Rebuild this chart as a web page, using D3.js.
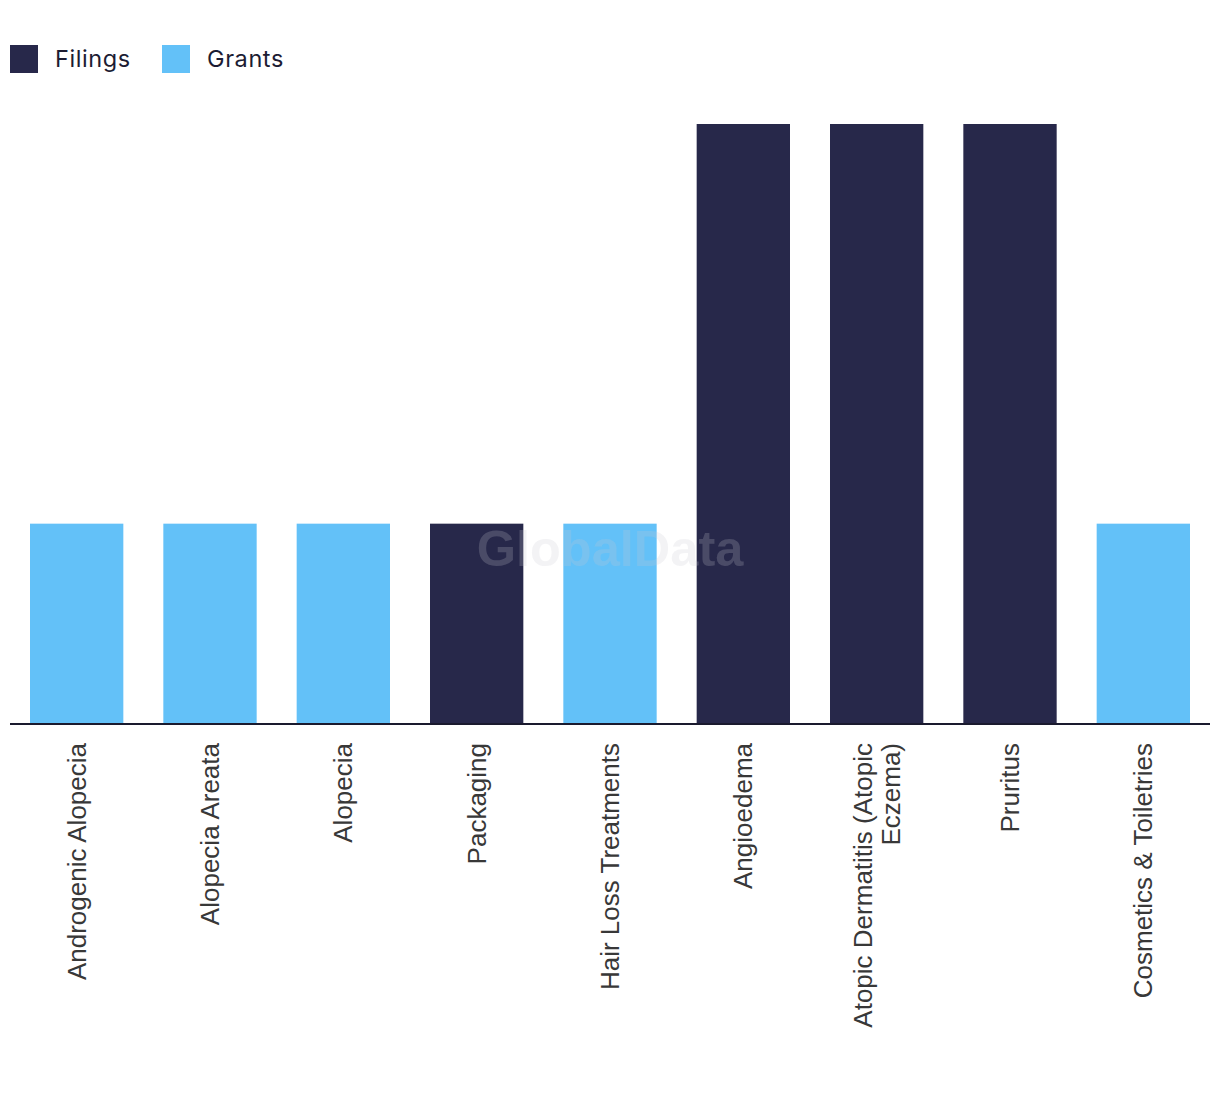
<!DOCTYPE html>
<html>
<head>
<meta charset="utf-8">
<script src="https://cdn.jsdelivr.net/npm/d3@7"></script>
<style>
  html, body { margin: 0; padding: 0; background: #ffffff; }
  svg { display: block; }
</style>
</head>
<body>
<div id="chart"></div>
<script>
const categories = [
  "Androgenic Alopecia",
  "Alopecia Areata",
  "Alopecia",
  "Packaging",
  "Hair Loss Treatments",
  "Angioedema",
  "Atopic Dermatitis (Atopic Eczema)",
  "Pruritus",
  "Cosmetics & Toiletries"
];
const seriesNames = ["Filings", "Grants"];
const filings = [0, 0, 0, 1, 0, 3, 3, 3, 0];
const grants  = [1, 1, 1, 0, 1, 0, 0, 0, 1];
const colors = ["#27284a", "#63c1f8"];

const W = 1220, H = 1094;
const svg = d3.select("#chart").append("svg").attr("width", W).attr("height", H);

const rows = categories.map((c, i) => ({ category: c, Filings: filings[i], Grants: grants[i] }));
const stack = d3.stack().keys(seriesNames)(rows);

const x = d3.scaleBand().domain(categories).range([10, 1210]).paddingInner(0.3).paddingOuter(0.15);
const y = d3.scaleLinear().domain([0, 3]).range([723.5, 124]);
const color = d3.scaleOrdinal().domain(seriesNames).range(colors);

// bars
svg.append("g").selectAll("g").data(stack).join("g")
  .attr("fill", d => color(d.key))
  .selectAll("rect").data(d => d.map((v, i) => ({ v, cat: categories[i] })))
  .join("rect")
  .attr("x", d => x(d.cat))
  .attr("width", x.bandwidth())
  .attr("y", d => y(d.v[1]))
  .attr("height", d => y(d.v[0]) - y(d.v[1]));

// watermark
svg.append("text")
  .attr("x", 610).attr("y", 566)
  .attr("text-anchor", "middle")
  .attr("font-family", "Liberation Sans, Arial, sans-serif")
  .attr("font-weight", "bold")
  .attr("font-size", 50.5)
  .attr("fill", "#c8c8d0")
  .attr("fill-opacity", 0.22)
  .text("GlobalData");

// x axis
const xAxis = svg.append("g").attr("transform", "translate(0,724)")
  .call(d3.axisBottom(x).tickSize(0).tickPadding(0));
xAxis.select(".domain").attr("stroke", "#1a1a2e").attr("stroke-width", 2)
  .attr("d", "M10,0H1210");
xAxis.selectAll(".tick text").remove();

function wrapLines(text, maxW, measure) {
  const words = text.split(/\s+/);
  const lines = [];
  let line = [];
  words.forEach(w => {
    const trial = line.concat([w]).join(" ");
    if (line.length && measure(trial) > maxW) {
      lines.push(line.join(" "));
      line = [w];
    } else line.push(w);
  });
  if (line.length) lines.push(line.join(" "));
  return lines;
}

const labelFont = 26;
const measurer = svg.append("text")
  .attr("font-family", "Liberation Sans, Arial, sans-serif")
  .attr("font-size", labelFont);
const measure = s => { measurer.text(s); return measurer.node().getComputedTextLength(); };

const lineH = 28.5;
xAxis.selectAll(".tick").each(function(d) {
  const lines = wrapLines(d, 305, measure);
  const t = d3.select(this).append("text")
    .attr("transform", "translate(0,19) rotate(-90)")
    .attr("text-anchor", "end")
    .attr("font-family", "Liberation Sans, Arial, sans-serif")
    .attr("font-size", labelFont)
    .attr("fill", "#383838");
  const n = lines.length;
  lines.forEach((l, i) => {
    t.append("tspan")
      .attr("x", 0)
      .attr("y", (i - (n - 1) / 2) * lineH)
      .attr("dy", "0.35em")
      .text(l);
  });
});
measurer.remove();

// legend
const legend = svg.append("g").attr("transform", "translate(10,45)");
const legX = [0, 152];
seriesNames.forEach((s, i) => {
  const g = legend.append("g").attr("transform", `translate(${legX[i]},0)`);
  g.append("rect").attr("width", 28).attr("height", 28).attr("fill", color(s));
  g.append("text").attr("x", 45).attr("y", 14).attr("dy", "0.35em")
    .attr("font-family", "Inter, Roboto, sans-serif")
    .attr("font-size", 23.5)
    .attr("letter-spacing", "0.6px")
    .attr("fill", "#1c1c33")
    .text(s);
});
</script>
</body>
</html>
